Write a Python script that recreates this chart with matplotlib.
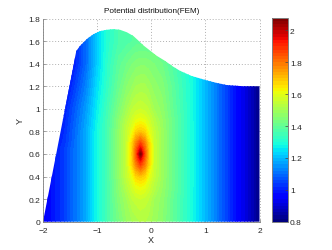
import numpy as np
import matplotlib
matplotlib.use('Agg')
import matplotlib.pyplot as plt
from matplotlib.patches import Polygon

plt.rcParams['font.family'] = ['Liberation Sans', 'DejaVu Sans']

title = 'Potential distribution(FEM)'
x_nodes = [-2, -1.6, -1.2, -1, -0.8, -0.6, -0.45, -0.35, -0.28, -0.2, -0.12, -0.05, 0.05, 0.2, 0.4, 0.8, 1.2, 1.6, 2]
y_nodes = [0, 0.2, 0.3, 0.4, 0.5, 0.55, 0.6, 0.65, 0.7, 0.8, 0.9, 1.0, 1.2, 1.4, 1.6, 1.8]
potential = [
    [0.94, 1.04, 1.18, 1.28, 1.36, 1.43, 1.48, 1.50, 1.51, 1.52, 1.52, 1.51, 1.49, 1.46, 1.40, 1.27, 1.12, 0.96, 0.82],
    [0.94, 1.04, 1.18, 1.28, 1.36, 1.45, 1.50, 1.54, 1.55, 1.56, 1.55, 1.54, 1.50, 1.47, 1.40, 1.27, 1.12, 0.96, 0.82],
    [0.94, 1.04, 1.18, 1.28, 1.36, 1.46, 1.53, 1.57, 1.60, 1.61, 1.60, 1.57, 1.53, 1.48, 1.41, 1.27, 1.12, 0.96, 0.82],
    [0.94, 1.04, 1.18, 1.28, 1.36, 1.47, 1.55, 1.61, 1.67, 1.69, 1.67, 1.61, 1.55, 1.49, 1.41, 1.27, 1.12, 0.96, 0.82],
    [0.94, 1.04, 1.18, 1.28, 1.36, 1.47, 1.56, 1.67, 1.78, 1.86, 1.78, 1.67, 1.56, 1.49, 1.41, 1.27, 1.12, 0.96, 0.82],
    [0.94, 1.04, 1.18, 1.28, 1.36, 1.47, 1.56, 1.68, 1.82, 1.96, 1.82, 1.68, 1.56, 1.49, 1.41, 1.27, 1.12, 0.96, 0.82],
    [0.94, 1.04, 1.18, 1.28, 1.36, 1.47, 1.56, 1.69, 1.84, 2.08, 1.84, 1.69, 1.56, 1.49, 1.41, 1.27, 1.12, 0.96, 0.82],
    [0.94, 1.04, 1.18, 1.28, 1.36, 1.47, 1.56, 1.68, 1.82, 1.96, 1.82, 1.68, 1.56, 1.49, 1.41, 1.27, 1.12, 0.96, 0.82],
    [0.94, 1.03, 1.18, 1.28, 1.36, 1.47, 1.56, 1.67, 1.78, 1.86, 1.78, 1.67, 1.56, 1.49, 1.41, 1.27, 1.12, 0.96, 0.82],
    [0.94, 1.02, 1.18, 1.28, 1.36, 1.47, 1.55, 1.61, 1.67, 1.69, 1.67, 1.61, 1.55, 1.49, 1.41, 1.27, 1.12, 0.96, 0.82],
    [0.93, 1.01, 1.17, 1.27, 1.36, 1.46, 1.53, 1.57, 1.60, 1.61, 1.60, 1.57, 1.53, 1.48, 1.41, 1.27, 1.12, 0.96, 0.82],
    [0.92, 1.00, 1.16, 1.26, 1.35, 1.44, 1.50, 1.54, 1.55, 1.56, 1.55, 1.54, 1.50, 1.47, 1.40, 1.27, 1.12, 0.96, 0.82],
    [0.88, 0.96, 1.13, 1.24, 1.33, 1.41, 1.46, 1.48, 1.50, 1.505, 1.505, 1.49, 1.47, 1.45, 1.39, 1.27, 1.12, 0.96, 0.82],
    [0.85, 0.92, 1.10, 1.22, 1.32, 1.39, 1.42, 1.44, 1.45, 1.455, 1.455, 1.45, 1.44, 1.42, 1.37, 1.27, 1.12, 0.96, 0.82],
    [0.85, 0.92, 1.10, 1.22, 1.31, 1.36, 1.37, 1.38, 1.39, 1.39, 1.39, 1.39, 1.39, 1.39, 1.36, 1.27, 1.12, 0.96, 0.82],
    [0.85, 0.92, 1.10, 1.22, 1.31, 1.36, 1.37, 1.38, 1.39, 1.39, 1.39, 1.39, 1.39, 1.39, 1.36, 1.26, 1.12, 0.96, 0.82],
]
outline_x = [-2, -1.385, -1.32, -1.19, -1.07, -0.946, -0.823, -0.70, -0.577, -0.45, -0.33, -0.25, -0.14, -0.02, 0.1, 0.25, 0.40, 0.53, 0.75, 1.0, 1.2, 1.4, 1.7, 2, 2]
outline_y = [0, 1.512, 1.555, 1.618, 1.66, 1.688, 1.70, 1.706, 1.70, 1.678, 1.645, 1.61, 1.56, 1.515, 1.47, 1.426, 1.375, 1.337, 1.29, 1.255, 1.23, 1.21, 1.20, 1.20, 0]
x_ticks = [-2, -1, 0, 1, 2]
y_ticks = [0, 0.2, 0.4, 0.6, 0.8, 1, 1.2, 1.4, 1.6, 1.8]
y_tick_labels = ['0', '0.2', '0.4', '0.6', '0.8', '1', '1.2', '1.4', '1.6', '1.8']
c_ticks = [0.8, 1, 1.2, 1.4, 1.6, 1.8, 2]
c_tick_labels = ['0.8', '1', '1.2', '1.4', '1.6', '1.8', '2']
c_min, c_max = 0.8, 2.08

W, H = 332, 251
fig = plt.figure(figsize=(W / 100, H / 100), dpi=100)
ax = fig.add_axes([43 / W, 1 - 222.7 / H, 216.5 / W, 203.2 / H])
cax = fig.add_axes([272 / W, 1 - 222.7 / H, 16 / W, 204 / H])

GRAY = '#808080'
TXT = '#262626'
cmap = plt.get_cmap('jet', 64)
levels = np.linspace(c_min, c_max, 65)
cs = ax.contourf(x_nodes, y_nodes, potential, levels=levels, cmap=cmap, vmin=c_min, vmax=c_max, zorder=2)
clip = Polygon(np.column_stack([outline_x, outline_y]), closed=True, transform=ax.transData,
               fc='none', ec='none')
ax.add_patch(clip)
cs.set_clip_path(clip)

ax.set_xlim(-2, 2)
ax.set_ylim(0, 1.8)
ax.set_xticks(x_ticks)
ax.set_yticks(y_ticks)
ax.set_yticklabels(y_tick_labels)
ax.grid(True, color='#b0b0b0', linestyle=(0, (1, 2)), linewidth=0.7, zorder=1)
for gl in ax.get_xgridlines() + ax.get_ygridlines():
    gl.set_clip_on(False)
ax.set_axisbelow(True)
ax.tick_params(direction='in', length=2, width=0.5, color=GRAY, labelsize=6, labelcolor=TXT)
ax.tick_params(axis='x', pad=3.5)
ax.tick_params(axis='y', pad=2)
for side, sp in ax.spines.items():
    sp.set_color(GRAY)
    sp.set_linewidth(0.6)
ax.spines['top'].set_visible(False)
ax.spines['right'].set_visible(False)
ax.set_title(title, fontsize=5.9, color='#111111', pad=5)
ax.set_xlabel('X', fontsize=6.5, color=TXT, labelpad=1)
ax.set_ylabel('Y', fontsize=6.5, color=TXT, labelpad=3)

sm = plt.cm.ScalarMappable(norm=plt.Normalize(c_min, c_max), cmap=cmap)
cb = fig.colorbar(sm, cax=cax)
cb.set_ticks(c_ticks)
cb.set_ticklabels(c_tick_labels)
cax.yaxis.set_ticks_position('right')
cax.tick_params(direction='in', length=2, width=0.5, color='#444444', labelsize=6, labelcolor=TXT, pad=1.5)
cb.outline.set_edgecolor(GRAY)
cb.outline.set_linewidth(0.7)

fig.savefig('out.png', dpi=100)
